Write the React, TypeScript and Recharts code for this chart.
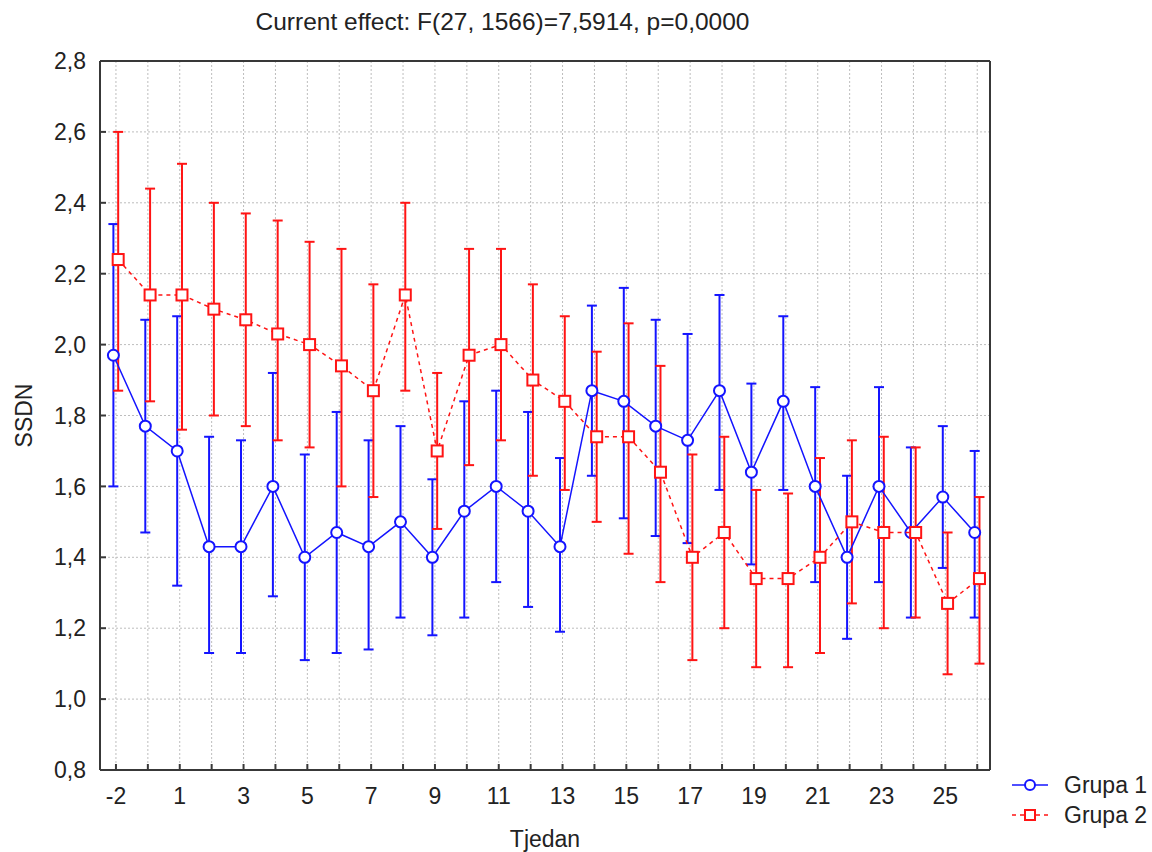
import { ComposedChart, Scatter, XAxis, YAxis, CartesianGrid, ErrorBar, Legend } from "recharts";

const weeks = ["-2", "-1", "1", "2", "3", "4", "5", "6", "7", "8", "9", "10", "11", "12", "13", "14", "15", "16", "17", "18", "19", "20", "21", "22", "23", "24", "25", "26"];

const grupa1Mean = [1.97, 1.77, 1.70, 1.43, 1.43, 1.60, 1.40, 1.47, 1.43, 1.50, 1.40, 1.53, 1.60, 1.53, 1.43, 1.87, 1.84, 1.77, 1.73, 1.87, 1.64, 1.84, 1.60, 1.40, 1.60, 1.47, 1.57, 1.47];
const grupa1High = [2.34, 2.07, 2.08, 1.74, 1.73, 1.92, 1.69, 1.81, 1.73, 1.77, 1.62, 1.84, 1.87, 1.81, 1.68, 2.11, 2.16, 2.07, 2.03, 2.14, 1.89, 2.08, 1.88, 1.63, 1.88, 1.71, 1.77, 1.70];
const grupa1Low = [1.60, 1.47, 1.32, 1.13, 1.13, 1.29, 1.11, 1.13, 1.14, 1.23, 1.18, 1.23, 1.33, 1.26, 1.19, 1.63, 1.51, 1.46, 1.44, 1.59, 1.38, 1.59, 1.33, 1.17, 1.33, 1.23, 1.37, 1.23];

const grupa2Mean = [2.24, 2.14, 2.14, 2.10, 2.07, 2.03, 2.00, 1.94, 1.87, 2.14, 1.70, 1.97, 2.00, 1.90, 1.84, 1.74, 1.74, 1.64, 1.40, 1.47, 1.34, 1.34, 1.40, 1.50, 1.47, 1.47, 1.27, 1.34];
const grupa2High = [2.60, 2.44, 2.51, 2.40, 2.37, 2.35, 2.29, 2.27, 2.17, 2.40, 1.92, 2.27, 2.27, 2.17, 2.08, 1.98, 2.06, 1.94, 1.69, 1.74, 1.59, 1.58, 1.68, 1.73, 1.74, 1.71, 1.47, 1.57];
const grupa2Low = [1.87, 1.84, 1.76, 1.80, 1.77, 1.73, 1.71, 1.60, 1.57, 1.87, 1.48, 1.66, 1.73, 1.63, 1.59, 1.50, 1.41, 1.33, 1.11, 1.20, 1.09, 1.09, 1.13, 1.27, 1.20, 1.23, 1.07, 1.10];

const yTicks = [0.8, 1.0, 1.2, 1.4, 1.6, 1.8, 2.0, 2.2, 2.4, 2.6, 2.8];

const BLUE = "#1414ff";
const RED = "#ff1414";
const AXIS = "#383838";
const TEXT = "#222";
const FONT = '"Liberation Sans", Arial, sans-serif';

// small horizontal dodge so the two groups don't sit on top of each other
const build = (mean: number[], low: number[], high: number[], dodge: number) =>
    mean.map((m, i) => ({ x: i + dodge, y: m, err: [m - low[i], high[i] - m] }));

const grupa1 = build(grupa1Mean, grupa1Low, grupa1High, -0.08);
const grupa2 = build(grupa2Mean, grupa2Low, grupa2High, 0.07);
const xTicks = weeks.map((_, i) => i);

const fmtY = (v: number) => v.toFixed(1).replace(".", ",");
const fmtX = (v: number) => (v % 2 === 0 ? weeks[v] : "");

const Circle = (p: any) => <circle cx={p.cx} cy={p.cy} r={5.5} fill="#fff" stroke={BLUE} strokeWidth={2} />;
const Square = (p: any) => <rect x={p.cx - 5.5} y={p.cy - 5.5} width={11} height={11} fill="#fff" stroke={RED} strokeWidth={2} />;

const LegendBox = () => (
    <div style={{ fontFamily: FONT, fontSize: 23, color: TEXT }}>
        {[
            { name: "Grupa 1", color: BLUE, dash: undefined, square: false },
            { name: "Grupa 2", color: RED, dash: "4 4", square: true },
        ].map((g) => (
            <div key={g.name} style={{ display: "flex", alignItems: "center", height: 30 }}>
                <svg width={50} height={20}>
                    <line x1={2} x2={38} y1={10} y2={10} stroke={g.color} strokeWidth={1.5} strokeDasharray={g.dash} />
                    {g.square ? (
                        <rect x={15} y={5} width={10} height={10} fill="#fff" stroke={g.color} strokeWidth={2} />
                    ) : (
                        <circle cx={20} cy={10} r={5} fill="#fff" stroke={g.color} strokeWidth={2} />
                    )}
                </svg>
                <span style={{ marginLeft: 4 }}>{g.name}</span>
            </div>
        ))}
    </div>
);

const axisLine = { stroke: AXIS, strokeWidth: 2 };
const tickStyle = { fill: TEXT, fontSize: 23, fontFamily: FONT };

export default function App() {
    return (
        <div style={{ position: "absolute", left: 0, top: 0, width: 1152, height: 852, background: "#fff" }}>
            <div
                style={{
                    position: "absolute",
                    top: 10,
                    left: 0,
                    width: 1005,
                    textAlign: "center",
                    fontFamily: FONT,
                    fontSize: 24.5,
                    lineHeight: 1,
                    color: TEXT,
                }}
            >
                Current effect: F(27, 1566)=7,5914, p=0,0000
            </div>
            <ComposedChart width={1152} height={852} margin={{ top: 60, right: 161, left: 0, bottom: 12 }}>
                <CartesianGrid stroke="#bdbdbd" strokeDasharray="2 2" />
                <XAxis
                    dataKey="x"
                    type="number"
                    domain={[-0.5, 27.4]}
                    ticks={xTicks}
                    interval={0}
                    tickFormatter={fmtX}
                    tickSize={-6}
                    tickMargin={24}
                    tick={tickStyle}
                    tickLine={axisLine}
                    axisLine={axisLine}
                    height={70}
                    label={{
                        content: (p: any) => (
                            <text x={p.viewBox.x + p.viewBox.width / 2} y={p.viewBox.y + 77} textAnchor="middle" fill={TEXT} fontSize={23} fontFamily={FONT}>
                                Tjedan
                            </text>
                        ),
                    }}
                />
                {/* frame on top and right: only inward tick marks, no labels */}
                <XAxis
                    xAxisId="top"
                    orientation="top"
                    dataKey="x"
                    type="number"
                    domain={[-0.5, 27.4]}
                    ticks={xTicks}
                    interval={0}
                    tickFormatter={() => ""}
                    tickSize={-6}
                    tickLine={axisLine}
                    axisLine={axisLine}
                    height={1}
                />
                <YAxis
                    dataKey="y"
                    type="number"
                    domain={[0.8, 2.8]}
                    ticks={yTicks}
                    interval={0}
                    tickFormatter={fmtY}
                    tickSize={-6}
                    tickMargin={20}
                    tick={tickStyle}
                    tickLine={axisLine}
                    axisLine={axisLine}
                    width={100}
                    label={{
                        content: (p: any) => {
                            const cx = p.viewBox.x + 32;
                            const cy = p.viewBox.y + p.viewBox.height / 2;
                            return (
                                <text x={cx} y={cy} transform={`rotate(-90 ${cx} ${cy})`} textAnchor="middle" fill={TEXT} fontSize={23} fontFamily={FONT}>
                                    SSDN
                                </text>
                            );
                        },
                    }}
                />
                <YAxis
                    yAxisId="right"
                    orientation="right"
                    dataKey="y"
                    type="number"
                    domain={[0.8, 2.8]}
                    ticks={yTicks}
                    interval={0}
                    tickFormatter={() => ""}
                    tickSize={-6}
                    tickLine={axisLine}
                    axisLine={axisLine}
                    width={1}
                />
                <Legend
                    layout="horizontal"
                    verticalAlign="middle"
                    align="center"
                    content={() => <LegendBox />}
                    wrapperStyle={{ position: "absolute", left: 1010, top: 770, width: 142 }}
                />
                <Scatter
                    name="Grupa 1"
                    data={grupa1}
                    shape={Circle}
                    line={{ stroke: BLUE, strokeWidth: 1.5 }}
                    lineType="joint"
                    isAnimationActive={false}
                >
                    <ErrorBar dataKey="err" direction="y" width={5} stroke={BLUE} strokeWidth={2} isAnimationActive={false} />
                </Scatter>
                <Scatter
                    name="Grupa 2"
                    data={grupa2}
                    shape={Square}
                    line={{ stroke: RED, strokeWidth: 1.5, strokeDasharray: "4 4" }}
                    lineType="joint"
                    isAnimationActive={false}
                >
                    <ErrorBar dataKey="err" direction="y" width={5} stroke={RED} strokeWidth={2} isAnimationActive={false} />
                </Scatter>
            </ComposedChart>
        </div>
    );
}
